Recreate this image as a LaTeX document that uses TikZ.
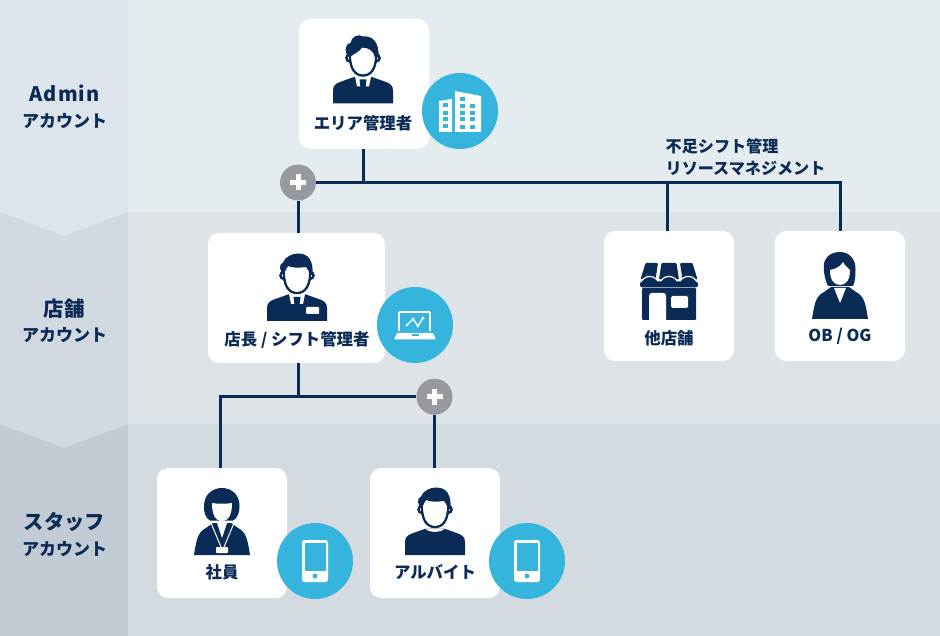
\documentclass[tikz,border=0pt]{standalone}
\usepackage{fontspec}
\setmainfont{Noto Sans CJK JP}
\usetikzlibrary{positioning}
\usetikzlibrary{calc}
\definecolor{navy}{HTML}{0A2B55}
\definecolor{badge}{HTML}{35B4DD}
\definecolor{plusgray}{HTML}{97999E}
\definecolor{bandtop}{HTML}{E5ECF0}
\definecolor{bandmid}{HTML}{DEE3E7}
\definecolor{bandlow}{HTML}{D3DAE0}
\definecolor{sidetop}{HTML}{DDE4EB}
\definecolor{sidemid}{HTML}{D1D8DF}
\definecolor{sidelow}{HTML}{C2CAD3}
\begin{document}
\begin{tikzpicture}[
  x=1pt,y=-1pt,
  link/.style ={
    draw=navy,line width=3pt
  },
  card/.style={
    rectangle,
    fill=white,
    rounded corners=11pt,
    minimum height=130pt,
    minimum width=#1,
    inner sep=0pt},
  cardtext/.style={
    text=navy,
    font=\bfseries\fontsize{#1}{18}\selectfont,
    inner sep=0pt},
  cardtext/.default=16.4,
  sidetext/.style={
    text=navy,
    font=\bfseries\fontsize{#1}{20}\selectfont,
    inner sep=0pt},
  toolbadge/.style={
    circle,
    fill=badge,
    minimum width=76pt,
    inner sep=0pt},
  plusbadge/.style={
    circle,
    fill=plusgray,
    minimum width=36pt,
    inner sep=0pt},
  pics/manhead/.style={code={
    \foreach \side in {-1,1} {
        \draw[navy,line width=2.4pt,fill=white] (\side*13.2,-45.5) circle (3.4);
    }
    \draw[navy,line width=2.4pt,fill=white] (-13,-50)
        .. controls (-13.5,-35) and (-8,-28) .. (0,-28)
        .. controls (8,-28) and (13.5,-35) .. (13,-50)
        .. controls (13,-62) and (-13,-62) .. (-13,-50) -- cycle;
    \fill[white] (-11.8,-50) .. controls (-12,-36) and (-7,-29.2) .. (0,-29.2)
        .. controls (7,-29.2) and (12,-36) .. (11.8,-50) -- cycle;
  }},
  pics/manbody/.style={code={
    \fill[navy] (-30,0) -- (-30,-13)
        .. controls (-30,-18) and (-27,-20) .. (-23,-21.5)
        -- (-9,-26.5) -- (9,-26.5) -- (23,-21.5)
        .. controls (27,-20) and (30,-18) .. (30,-13) -- (30,0) -- cycle;
  }},
  pics/hairswept/.style={code={
    \fill[navy] (-13.5,-46)
        .. controls (-19,-50) and (-19,-59) .. (-12.5,-60.5)
        .. controls (-12,-67) and (-4,-70) .. (0,-67)
        .. controls (9,-68) and (16.5,-62) .. (15.5,-46) -- (12,-46)
        .. controls (11,-52) and (6,-56) .. (-1,-56)
        .. controls (-3,-52) and (-9,-50) .. (-13.5,-46) -- cycle;
  }},
  pics/hairshort/.style={code={
    \fill[navy] (-13.5,-46)
        .. controls (-17,-50) and (-19,-56) .. (-14,-58.5)
        .. controls (-12,-64) and (-5,-67.5) .. (1,-67.5)
        .. controls (12,-67.5) and (16.5,-60) .. (15.5,-46) -- (12.5,-46)
        .. controls (12,-50) and (11,-52) .. (9,-54)
        .. controls (2,-53) and (-5,-53) .. (-9,-55)
        .. controls (-11,-52) and (-12,-50) .. (-13.5,-46) -- cycle;
  }},
  pics/collar/.style={code={
    \fill[white] (-8,-27) -- (-6,-17) -- (6,-17) -- (8,-27) -- cycle;
    \fill[navy] (-3.5,-24) -- (3.5,-24) -- (2.5,-16) -- (-2.5,-16) -- cycle;
  }},
  pics/womanbody/.style={code={
    \fill[navy] (-28,0)
        .. controls (-26,-12) and (-25,-23) .. (-16,-27)
        -- (-9,-32) -- (9,-32) -- (16,-27)
        .. controls (25,-23) and (26,-12) .. (28,-0) -- cycle;
  }},
  pics/building/.style={code={
    \fill[white] (-21,21) -- (-21,-10) -- (-8,-12) -- (-8,21) -- cycle;
    \fill[white] (-5,21) -- (-5,-20) -- (21,-15) -- (21,21) -- cycle;
    \foreach \row in {-6,2,8,15} {
        \fill[badge] (-17,\row-2) rectangle (-12,\row+2);
    }
    \foreach \row in {-12,-5,2,8,16} {
        \fill[badge] (0,\row-2) rectangle (5,\row+2);
    }
    \foreach \row in {-5,2,8,16} {
        \fill[badge] (10,\row-2) rectangle (15,\row+2);
    }
  }},
  pics/laptop/.style={code={
    \draw[white,line width=1.8pt,rounded corners=1pt] (-16,6) -- (-16,-13) -- (15,-13) -- (15,6);
    \draw[white,line width=1.4pt] (-8,0) -- (-2,-6) -- (3,1) -- (8,-7);
    \foreach \px/\py in {-8/0,-2/-6,3/1,8/-7} {
        \fill[white] (\px,\py) circle (1.6);
    }
    \fill[white,rounded corners=1pt] (-18,8) -- (18,8) -- (21,14.5) -- (-21,14.5) -- cycle;
    \fill[badge] (-3.5,9.5) rectangle (3.5,11);
  }},
  pics/phone/.style={code={
    \fill[white,rounded corners=2.5pt] (-13,-21) rectangle (13,21);
    \fill[badge] (-10.5,-18) rectangle (10.5,10);
    \fill[badge] (0,15) circle (2.5);
  }},
  pics/store/.style={code={
    \foreach \topa/\topb/\lowa/\lowb in {-23.5/-11/-28.5/-13.5,-7.5/7.5/-10/10,11/23.5/13.5/28.5} {
        \fill[navy,rounded corners=1pt] (\topa,-57) -- (\topb,-57) -- (\lowb,-40.5) -- (\lowa,-40.5) -- cycle;
    }
    \fill[navy,rounded corners=1pt] (-27,-32) rectangle (27,0);
    \fill[white] (-20,0) -- (-20,-24) .. controls (-20,-26) and (-19,-27) .. (-17,-27)
        -- (-6,-27) .. controls (-4,-27) and (-3,-26) .. (-3,-24) -- (-3,0) -- cycle;
    \fill[white,rounded corners=1.5pt] (2,-24) rectangle (19,-12);
    \foreach \px in {-19.3,0,19.3} {
        \draw[white,line width=1.2pt,fill=navy] (\px-9.6,-34) arc[start angle=180,end angle=360,radius=9.6];
    }
    \fill[navy,rounded corners=2.5pt] (-29,-38.5) rectangle (29,-32.5);
  }},
]

    \def\bandheight{212}%
    \def\sidewidth{128}%
    \def\notch{24}%

    % Background bands
    \fill[bandtop] (\sidewidth,0) rectangle (940,\bandheight);
    \fill[bandmid] (\sidewidth,\bandheight) rectangle (940,2*\bandheight);
    \fill[bandlow] (\sidewidth,2*\bandheight) rectangle (940,636);

    \fill[sidelow] (0,2*\bandheight) rectangle (\sidewidth,636);
    \fill[sidemid] (0,\bandheight) -- (\sidewidth,\bandheight) -- (\sidewidth,2*\bandheight)
        -- (\sidewidth/2,2*\bandheight+\notch) -- (0,2*\bandheight) -- cycle;
    \fill[sidetop] (0,0) -- (\sidewidth,0) -- (\sidewidth,\bandheight)
        -- (\sidewidth/2,\bandheight+\notch) -- (0,\bandheight) -- cycle;
    \useasboundingbox (0,0) rectangle (940,636);

    % Side labels
    \node[sidetext=20] (admin) at (64.5,93.5) {\addfontfeatures{LetterSpace=5}Admin};
    \node[sidetext=17] (adminacc) at (64.5,121.5) {アカウント};
    \node[sidetext=20.5] (shopside) at (64,308.5) {店舗};
    \node[sidetext=17] (shopacc) at (64.5,335.5) {アカウント};
    \node[sidetext=20.3] (staffside) at (64.5,521.5) {スタッフ};
    \node[sidetext=17] (staffacc) at (64.5,549.5) {アカウント};

    % Cards
    \node[card=130pt] (area) at (364,84) {};
    \node[card=177pt] (manager) at (296.5,298) {};
    \node[card=130pt] (shop) at (669,296) {};
    \node[card=130pt] (alumni) at (840,296) {};
    \node[card=130pt] (staff) at (222,533) {};
    \node[card=130pt] (parttime) at (435,533) {};

    % Card labels
    \node[cardtext] (areatext) at (363,123.5) {エリア管理者};
    \node[cardtext] (managertext) at (297,339.5) {店長 / シフト管理者};
    \node[cardtext] (shoptext) at (669,338.5) {他店舗};
    \node[cardtext] (alumnitext) at (840,336.5) {OB / OG};
    \node[cardtext] (stafftext) at (222,572.5) {社員};
    \node[cardtext] (parttimetext) at (435,572.5) {アルバイト};

    % Plus buttons
    \node[plusbadge] (plustop) at (298,182.5) {};
    \node[plusbadge] (pluslow) at (434.5,396.7) {};
    \foreach \plus in {plustop,pluslow} {
        \fill[white] ($(\plus)+(-8,-2.5)$) rectangle ($(\plus)+(8,2.5)$);
        \fill[white] ($(\plus)+(-2.5,-8)$) rectangle ($(\plus)+(2.5,8)$);
    }

    % Connectors
    \coordinate (areafoot) at (363,149);
    \coordinate (managerfoot) at (298,363);
    \coordinate (stafftop) at (220,468);
    \coordinate (shoptop) at (667.5,231);
    \draw[link] (areafoot) -- (areafoot |- plustop);
    \draw[link] (plustop.east) -| (alumni.north);
    \draw[link] (shoptop |- plustop) -- (shoptop);
    \draw[link] (plustop.south) -- (plustop.south |- manager.north);
    \draw[link] (managerfoot) -- (managerfoot |- pluslow);
    \draw[link] (pluslow.west) -| (stafftop);
    \draw[link] (pluslow.south) -- (pluslow.south |- parttime.north);

    % Request label
    \node[cardtext=16.1,anchor=west] (shortage) at (665.5,146.5) {不足シフト管理};
    \node[cardtext=16.1,anchor=west] (resource) at (665.5,168.5) {リソースマネジメント};

    % Tool badges
    \node[toolbadge] (buildingbadge) at (460,111) {};
    \node[toolbadge] (laptopbadge) at (415,325) {};
    \node[toolbadge] (staffphone) at (315,561) {};
    \node[toolbadge] (partphone) at (527,561) {};
    \pic at (buildingbadge) {building};
    \pic at (laptopbadge) {laptop};
    \foreach \badge in {staffphone,partphone} {
        \pic at (\badge) {phone};
    }

    % People
    \pic at (363,103.5) {manbody};
    \pic at (363,103.5) {collar};
    \pic at (363,103.5) {manhead};
    \pic at (363,103.5) {hairswept};

    \pic at (297,321) {manbody};
    \pic at (297,321) {collar};
    \fill[white,rounded corners=1pt] (306,307) rectangle (319,314);
    \pic at (297,321) {manhead};
    \pic at (297,321) {hairshort};

    \pic at (435,555) {manbody};
    \fill[white] (425,528.5) .. controls (430,533) and (440,533) .. (445,528.5) -- cycle;
    \pic at (435,555) {manhead};
    \pic at (435,555) {hairshort};

    % Store
    \pic at (669,320) {store};

    % Alumni
    \pic at (840,319) {womanbody};
    \fill[navy] (828,286) .. controls (825,280) and (823,270) .. (824,263)
        .. controls (827,254) and (834,252) .. (840,252)
        .. controls (850,252) and (856,260) .. (855.5,270)
        .. controls (855.5,277) and (855,282) .. (853,286) -- cycle;
    \fill[white] (834,288) -- (846,288) -- (840,303) -- cycle;
    \fill[white] (830,270) .. controls (836,269) and (841,266) .. (843,262)
        .. controls (845,266) and (848,268) .. (850,270)
        .. controls (850,280) and (846,285) .. (840,285)
        .. controls (834,285) and (830,280) .. (830,270) -- cycle;

    % Employee
    \pic at (222,555) {womanbody};
    \fill[white] (217,523) -- (227,523) -- (222,538) -- cycle;
    \draw[white,line width=1pt] (211,523) -- (221,547);
    \draw[white,line width=1pt] (234,523) -- (224,547);
    \fill[white,rounded corners=0.8pt] (216,547) rectangle (228,553);
    \fill[navy] (210,520.5) .. controls (205,518) and (204,512) .. (204,506)
        .. controls (204,495) and (212,488) .. (222,488)
        .. controls (232,488) and (239.5,495) .. (239.5,506)
        .. controls (239.5,512) and (238,518) .. (233,520.5) -- cycle;
    \fill[white] (212,503) .. controls (217,504) and (226,504) .. (232,503)
        .. controls (232,514) and (229,521) .. (222,521)
        .. controls (215,521) and (212,514) .. (212,503) -- cycle;

\end{tikzpicture}
\end{document}
